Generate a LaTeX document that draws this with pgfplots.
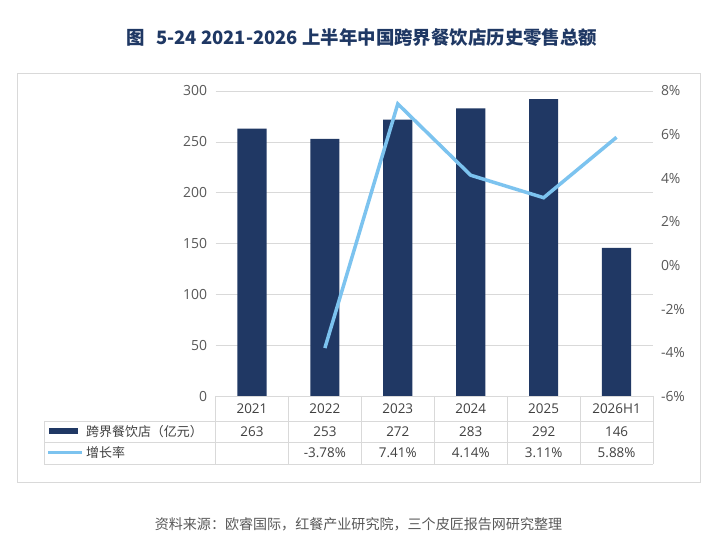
\documentclass[border=0pt]{standalone}
\usepackage{pgfplots}
\pgfplotsset{compat=1.18}
\usepackage{fontspec}
\setmainfont{Open Sans}
\newfontfamily\cjk{Noto Sans CJK SC}
\definecolor{navy}{HTML}{203864}
\definecolor{titlec}{HTML}{1F3864}
\definecolor{lblue}{HTML}{7CC3EF}
\definecolor{gridc}{HTML}{D9D9D9}
\definecolor{txt}{HTML}{595959}
\definecolor{tabtxt}{HTML}{404040}
\begin{document}
\begin{tikzpicture}
\fill[white] (0bp,0bp) rectangle (712bp,543bp);
% frame
\draw[gridc, line width=1bp] (17bp,469bp) rectangle (700bp,60bp);
% title
\node[font={\cjk\bfseries\fontsize{18.5}{22}\selectfont}, text=titlec] at (362bp,505bp) {图\hspace{0.6em}5-24 2021-2026 上半年中国跨界餐饮店历史零售总额};
% source
\node[font={\cjk\fontsize{14.1}{16}\selectfont}, text=txt] at (358.5bp,18.5bp) {资料来源：欧睿国际，红餐产业研究院，三个皮匠报告网研究整理};

\begin{axis}[
  at={(215.5bp,146.5bp)}, anchor=south west,
  width=437.5bp, height=305.5bp, scale only axis,
  xmin=-0.5, xmax=5.5, ymin=0, ymax=300,
  ytick={0,50,...,300},
  xtick={0,1,2,3,4,5},
  xticklabels={2021,2022,2023,2024,2025,2026H1},
  xticklabel style={anchor=center, yshift=-12bp, font=\fontsize{13.5}{16}\selectfont, text=tabtxt},
  yticklabel style={xshift=-5bp, font=\fontsize{14}{16}\selectfont, text=txt},
  /pgf/number format/assume math mode=true,
  ymajorgrids, grid style={gridc, line width=0.8bp},
  axis line style={draw=none},
  major tick style={draw=none},
]
\addplot[ybar, bar width=0.4, fill=navy, draw=none] coordinates {(0,263) (1,253) (2,272) (3,283) (4,292) (5,146)};
\end{axis}

\begin{axis}[
  at={(215.5bp,146.5bp)}, anchor=south west,
  width=437.5bp, height=305.5bp, scale only axis,
  xmin=-0.5, xmax=5.5, ymin=-6, ymax=8,
  xtick=\empty,
  ytick={-6,-4,-2,0,2,4,6,8},
  yticklabels={-6\%,-4\%,-2\%,0\%,2\%,4\%,6\%,8\%},
  yticklabel pos=right,
  yticklabel style={xshift=4.5bp, font=\fontsize{14}{16}\selectfont, text=txt},
  axis line style={draw=none},
  major tick style={draw=none},
]
\addplot[lblue, line width=3.5bp, mark=none] coordinates {(1,-3.78) (2,7.41) (3,4.14) (4,3.11) (5,5.88)};
\end{axis}

% data table
\draw[gridc, line width=0.9bp] (215.5bp,147bp) -- (653bp,147bp);
\draw[gridc, line width=0.9bp] (44bp,122bp) -- (653bp,122bp);
\draw[gridc, line width=0.9bp] (44bp,101bp) -- (653bp,101bp);
\draw[gridc, line width=0.9bp] (44bp,79bp) -- (653bp,79bp);
\draw[gridc, line width=0.9bp] (44bp,122bp) -- (44bp,79bp);
\foreach \k in {0,...,6} {
  \draw[gridc, line width=0.9bp] ({215.5bp+\k*72.917bp},147bp) -- ({215.5bp+\k*72.917bp},79bp);
}
\foreach \v [count=\i from 0] in {263,253,272,283,292,146} {
  \node[font=\fontsize{13.5}{16}\selectfont, text=tabtxt] at ({252bp+\i*72.917bp},111.5bp) {\v};
}
\foreach \v [count=\i from 1] in {-3.78\%,7.41\%,4.14\%,3.11\%,5.88\%} {
  \node[font=\fontsize{13.5}{16}\selectfont, text=tabtxt] at ({252bp+\i*72.917bp},90bp) {\v};
}
% legend keys
\fill[navy] (49bp,108.5bp) rectangle (78bp,115bp);
\draw[lblue, line width=3bp] (48bp,90bp) -- (82bp,90bp);
\node[anchor=west, font={\cjk\fontsize{13}{16}\selectfont}, text=tabtxt, inner sep=0pt] at (86bp,111.5bp) {跨界餐饮店（亿元）};
\node[anchor=west, font={\cjk\fontsize{13}{16}\selectfont}, text=tabtxt, inner sep=0pt] at (86bp,90bp) {增长率};
\end{tikzpicture}
\end{document}
